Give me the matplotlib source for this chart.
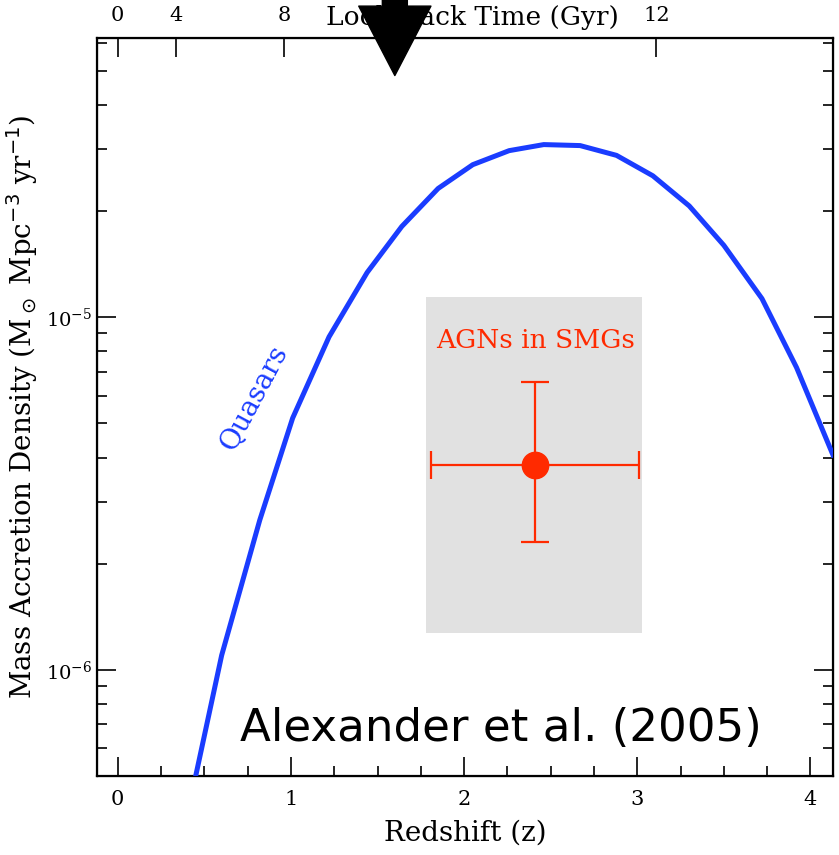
import numpy as np
import matplotlib
matplotlib.use('Agg')
import matplotlib.pyplot as plt
from matplotlib.ticker import LogLocator, NullFormatter, MultipleLocator

# quasar accretion density curve
quasar_z = [0.45, 0.60, 0.82, 1.01, 1.22, 1.44, 1.64, 1.85, 2.05, 2.26, 2.46,
            2.67, 2.88, 3.09, 3.30, 3.50, 3.72, 3.92, 4.13]
quasar_rho = [5.0e-7, 1.10e-6, 2.66e-6, 5.18e-6, 8.8e-6, 1.34e-5, 1.81e-5,
              2.32e-5, 2.71e-5, 2.97e-5, 3.09e-5, 3.07e-5, 2.88e-5, 2.52e-5,
              2.07e-5, 1.60e-5, 1.13e-5, 7.2e-6, 4.07e-6]

# AGN in SMGs point
smg_z = 2.41
smg_zerr = 0.6
smg_rho = 3.81e-6
smg_rho_lo = 2.31e-6
smg_rho_hi = 6.54e-6

# shaded box
box_z = [1.78, 3.03]
box_rho = [1.27e-6, 1.14e-5]

# top axis: look back time
lookback_labels = ['0', '4', '8', '12']
lookback_z = [0.0, 0.335, 0.96, 3.11]

arrow_z = 1.6

BLUE = '#1a3cff'
RED = '#ff2a00'
SERIF = 'DejaVu Serif'

fig = plt.figure(figsize=(8.39, 8.55), dpi=100)
ax = fig.add_axes([0.1156, 0.0924, 0.8772, 0.8632])

ax.fill_between(box_z, box_rho[0], box_rho[1], color='#e1e1e1', lw=0, zorder=1)

ax.plot(quasar_z, quasar_rho, color=BLUE, lw=3.6, zorder=3)

ax.errorbar([smg_z], [smg_rho], xerr=[[smg_zerr], [smg_zerr]],
            yerr=[[smg_rho - smg_rho_lo], [smg_rho_hi - smg_rho]],
            fmt='o', color=RED, ms=19, elinewidth=1.6, capsize=10, capthick=1.6, zorder=4)

ax.set_yscale('log')
ax.set_xlim(-0.12, 4.13)
ax.set_ylim(5.0e-7, 6.2e-5)

ax.text(smg_z, 8.6e-6, 'AGNs in SMGs', color=RED, fontsize=19, family=SERIF,
        ha='center', va='center')
ax.text(0.79, 5.9e-6, 'Quasars', color=BLUE, fontsize=20, family=SERIF,
        rotation=62, ha='center', va='center')
ax.text(0.549, 0.065, 'Alexander et al. (2005)', transform=ax.transAxes,
        fontsize=32.5, ha='center', va='center', color='black')

# axes style
for s in ax.spines.values():
    s.set_linewidth(1.6)
ax.xaxis.set_major_locator(MultipleLocator(1))
ax.xaxis.set_minor_locator(MultipleLocator(0.25))
ax.yaxis.set_major_locator(LogLocator(base=10))
ax.yaxis.set_minor_locator(LogLocator(base=10, subs=np.arange(2, 10)))
ax.yaxis.set_minor_formatter(NullFormatter())
ax.tick_params(which='both', direction='in', right=True, top=False, width=1.2)
ax.tick_params(which='major', length=14)
ax.tick_params(which='minor', length=7)
ax.tick_params(axis='x', labelsize=15, pad=10)
ax.tick_params(axis='y', labelsize=14)
for lab in ax.get_xticklabels() + ax.get_yticklabels():
    lab.set_family(SERIF)

ax.set_xlabel('Redshift (z)', fontsize=20, family=SERIF, labelpad=8)
ax.set_ylabel(r'Mass Accretion Density (M$_\odot$ Mpc$^{-3}$ yr$^{-1}$)',
              fontsize=20, family=SERIF, labelpad=4)

# top axis
top = ax.twiny()
top.set_xlim(ax.get_xlim())
top.set_xticks(lookback_z)
top.set_xticklabels(lookback_labels, family=SERIF, fontsize=15)
top.tick_params(direction='in', length=14, width=1.2, pad=9)
top.xaxis.set_minor_locator(plt.NullLocator())
fig.text(0.563, 0.980, 'Look Back Time (Gyr)', fontsize=19, family=SERIF,
         ha='center', va='center')

# arrow at top
ax.annotate('', xy=(arrow_z, 4.85e-5), xycoords='data',
            xytext=(arrow_z, 1.08), textcoords=('data', 'axes fraction'),
            arrowprops=dict(facecolor='black', edgecolor='black', width=18,
                            headwidth=52, headlength=50, shrink=0),
            annotation_clip=False, zorder=10)

plt.savefig('out.png', dpi=100)
